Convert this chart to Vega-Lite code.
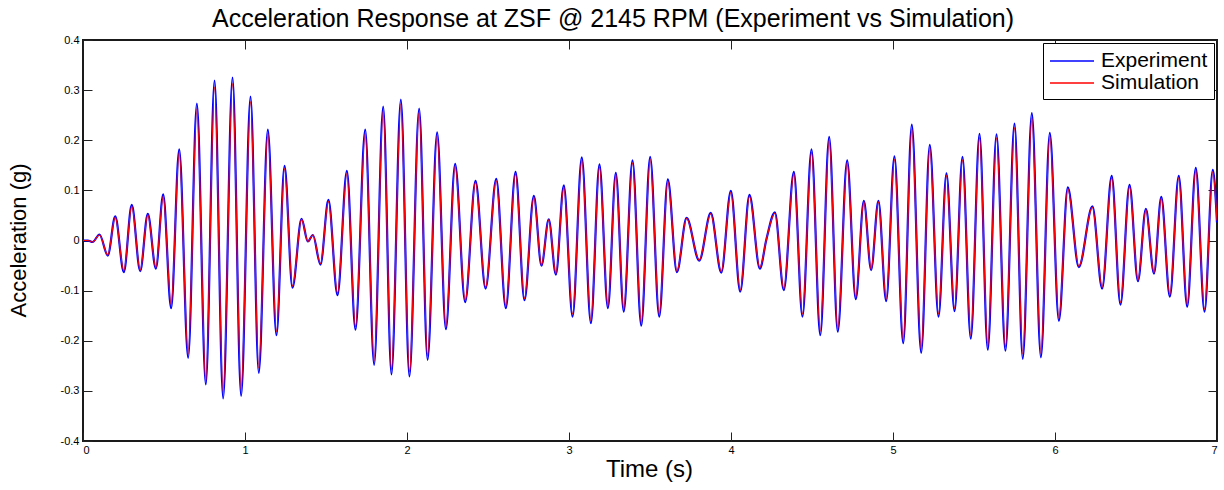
{
  "$schema": "https://vega.github.io/schema/vega-lite/v6.json",
  "width": 1134,
  "height": 401,
  "autosize": {"type": "none"},
  "padding": {"left": 83, "top": 40, "right": 7, "bottom": 49},
  "background": "white",
  "title": {
    "text": "Acceleration Response at ZSF @ 2145 RPM (Experiment vs Simulation)",
    "font": "Liberation Sans",
    "fontSize": 25,
    "fontWeight": "normal",
    "color": "black",
    "anchor": "middle",
    "baseline": "alphabetic",
    "offset": 12,
    "dx": -37,
    "dy": 30
  },
  "config": {
    "view": {"stroke": "#1a1a1a", "strokeWidth": 2},
    "axis": {
      "grid": false,
      "domain": false,
      "minExtent": 0,
      "tickSize": -9,
      "tickColor": "#222222",
      "tickWidth": 1,
      "labelFont": "Liberation Sans",
      "labelFontSize": 11,
      "labelColor": "black",
      "titleFont": "Liberation Sans",
      "titleFontWeight": "normal",
      "titleColor": "black"
    }
  },
  "data": {
    "values": [
      {"t": 0.000, "e": 0, "s": 0},
      {"t": 0.030, "e": 0, "s": 0},
      {"t": 0.059, "e": -0.003, "s": -0.003},
      {"t": 0.102, "e": 0.012, "s": 0.011},
      {"t": 0.153, "e": -0.030, "s": -0.029},
      {"t": 0.199, "e": 0.048, "s": 0.046},
      {"t": 0.252, "e": -0.063, "s": -0.060},
      {"t": 0.301, "e": 0.071, "s": 0.068},
      {"t": 0.353, "e": -0.061, "s": -0.059},
      {"t": 0.400, "e": 0.053, "s": 0.051},
      {"t": 0.450, "e": -0.056, "s": -0.054},
      {"t": 0.495, "e": 0.092, "s": 0.088},
      {"t": 0.544, "e": -0.135, "s": -0.128},
      {"t": 0.594, "e": 0.182, "s": 0.176},
      {"t": 0.649, "e": -0.234, "s": -0.226},
      {"t": 0.703, "e": 0.273, "s": 0.262},
      {"t": 0.758, "e": -0.287, "s": -0.280},
      {"t": 0.812, "e": 0.319, "s": 0.306},
      {"t": 0.865, "e": -0.315, "s": -0.301},
      {"t": 0.923, "e": 0.325, "s": 0.313},
      {"t": 0.976, "e": -0.310, "s": -0.297},
      {"t": 1.034, "e": 0.287, "s": 0.277},
      {"t": 1.085, "e": -0.264, "s": -0.254},
      {"t": 1.141, "e": 0.221, "s": 0.214},
      {"t": 1.194, "e": -0.189, "s": -0.182},
      {"t": 1.244, "e": 0.149, "s": 0.144},
      {"t": 1.293, "e": -0.094, "s": -0.091},
      {"t": 1.349, "e": 0.043, "s": 0.042},
      {"t": 1.388, "e": -0.002, "s": -0.002},
      {"t": 1.419, "e": 0.011, "s": 0.011},
      {"t": 1.466, "e": -0.048, "s": -0.046},
      {"t": 1.515, "e": 0.081, "s": 0.078},
      {"t": 1.571, "e": -0.109, "s": -0.105},
      {"t": 1.629, "e": 0.139, "s": 0.134},
      {"t": 1.682, "e": -0.178, "s": -0.172},
      {"t": 1.742, "e": 0.221, "s": 0.213},
      {"t": 1.797, "e": -0.248, "s": -0.240},
      {"t": 1.853, "e": 0.267, "s": 0.258},
      {"t": 1.904, "e": -0.267, "s": -0.258},
      {"t": 1.962, "e": 0.281, "s": 0.272},
      {"t": 2.015, "e": -0.271, "s": -0.262},
      {"t": 2.075, "e": 0.263, "s": 0.255},
      {"t": 2.127, "e": -0.238, "s": -0.230},
      {"t": 2.186, "e": 0.216, "s": 0.209},
      {"t": 2.240, "e": -0.177, "s": -0.172},
      {"t": 2.297, "e": 0.153, "s": 0.148},
      {"t": 2.359, "e": -0.123, "s": -0.119},
      {"t": 2.423, "e": 0.119, "s": 0.116},
      {"t": 2.485, "e": -0.096, "s": -0.093},
      {"t": 2.551, "e": 0.123, "s": 0.119},
      {"t": 2.610, "e": -0.135, "s": -0.131},
      {"t": 2.670, "e": 0.137, "s": 0.133},
      {"t": 2.725, "e": -0.119, "s": -0.116},
      {"t": 2.783, "e": 0.089, "s": 0.086},
      {"t": 2.830, "e": -0.050, "s": -0.049},
      {"t": 2.875, "e": 0.042, "s": 0.041},
      {"t": 2.919, "e": -0.068, "s": -0.066},
      {"t": 2.968, "e": 0.110, "s": 0.106},
      {"t": 3.022, "e": -0.152, "s": -0.147},
      {"t": 3.079, "e": 0.166, "s": 0.160},
      {"t": 3.135, "e": -0.165, "s": -0.160},
      {"t": 3.188, "e": 0.152, "s": 0.147},
      {"t": 3.240, "e": -0.135, "s": -0.131},
      {"t": 3.289, "e": 0.135, "s": 0.131},
      {"t": 3.338, "e": -0.142, "s": -0.137},
      {"t": 3.392, "e": 0.160, "s": 0.155},
      {"t": 3.446, "e": -0.170, "s": -0.164},
      {"t": 3.501, "e": 0.167, "s": 0.162},
      {"t": 3.557, "e": -0.152, "s": -0.147},
      {"t": 3.610, "e": 0.122, "s": 0.118},
      {"t": 3.666, "e": -0.063, "s": -0.061},
      {"t": 3.726, "e": 0.045, "s": 0.044},
      {"t": 3.804, "e": -0.040, "s": -0.039},
      {"t": 3.875, "e": 0.055, "s": 0.053},
      {"t": 3.940, "e": -0.064, "s": -0.062},
      {"t": 3.999, "e": 0.099, "s": 0.096},
      {"t": 4.057, "e": -0.102, "s": -0.099},
      {"t": 4.114, "e": 0.091, "s": 0.088},
      {"t": 4.178, "e": -0.056, "s": -0.054},
      {"t": 4.219, "e": 0.003, "s": 0.003},
      {"t": 4.271, "e": 0.056, "s": 0.054},
      {"t": 4.326, "e": -0.099, "s": -0.096},
      {"t": 4.388, "e": 0.137, "s": 0.133},
      {"t": 4.441, "e": -0.152, "s": -0.147},
      {"t": 4.497, "e": 0.182, "s": 0.176},
      {"t": 4.551, "e": -0.189, "s": -0.181},
      {"t": 4.606, "e": 0.207, "s": 0.200},
      {"t": 4.659, "e": -0.182, "s": -0.176},
      {"t": 4.717, "e": 0.160, "s": 0.155},
      {"t": 4.770, "e": -0.117, "s": -0.113},
      {"t": 4.820, "e": 0.079, "s": 0.077},
      {"t": 4.865, "e": -0.059, "s": -0.057},
      {"t": 4.910, "e": 0.079, "s": 0.077},
      {"t": 4.958, "e": -0.121, "s": -0.117},
      {"t": 5.009, "e": 0.168, "s": 0.162},
      {"t": 5.063, "e": -0.205, "s": -0.198},
      {"t": 5.116, "e": 0.231, "s": 0.222},
      {"t": 5.174, "e": -0.224, "s": -0.216},
      {"t": 5.227, "e": 0.191, "s": 0.185},
      {"t": 5.281, "e": -0.152, "s": -0.147},
      {"t": 5.330, "e": 0.134, "s": 0.130},
      {"t": 5.380, "e": -0.141, "s": -0.136},
      {"t": 5.429, "e": 0.167, "s": 0.161},
      {"t": 5.480, "e": -0.196, "s": -0.189},
      {"t": 5.534, "e": 0.213, "s": 0.206},
      {"t": 5.585, "e": -0.218, "s": -0.210},
      {"t": 5.639, "e": 0.212, "s": 0.205},
      {"t": 5.694, "e": -0.220, "s": -0.212},
      {"t": 5.750, "e": 0.233, "s": 0.225},
      {"t": 5.801, "e": -0.236, "s": -0.226},
      {"t": 5.857, "e": 0.254, "s": 0.244},
      {"t": 5.913, "e": -0.233, "s": -0.225},
      {"t": 5.968, "e": 0.215, "s": 0.208},
      {"t": 6.024, "e": -0.160, "s": -0.155},
      {"t": 6.079, "e": 0.106, "s": 0.103},
      {"t": 6.147, "e": -0.053, "s": -0.051},
      {"t": 6.231, "e": 0.068, "s": 0.066},
      {"t": 6.291, "e": -0.096, "s": -0.093},
      {"t": 6.350, "e": 0.129, "s": 0.125},
      {"t": 6.404, "e": -0.128, "s": -0.124},
      {"t": 6.460, "e": 0.111, "s": 0.108},
      {"t": 6.512, "e": -0.081, "s": -0.079},
      {"t": 6.561, "e": 0.063, "s": 0.061},
      {"t": 6.611, "e": -0.066, "s": -0.064},
      {"t": 6.656, "e": 0.087, "s": 0.084},
      {"t": 6.709, "e": -0.112, "s": -0.108},
      {"t": 6.764, "e": 0.129, "s": 0.125},
      {"t": 6.816, "e": -0.132, "s": -0.128},
      {"t": 6.869, "e": 0.145, "s": 0.140},
      {"t": 6.923, "e": -0.142, "s": -0.138},
      {"t": 6.974, "e": 0.141, "s": 0.137},
      {"t": 7.000, "e": 0.036, "s": 0.040}
    ]
  },
  "layer": [
    {
      "mark": {"type": "line", "interpolate": "monotone", "strokeWidth": 2.2, "clip": true},
      "encoding": {
        "x": {
          "field": "t", "type": "quantitative",
          "scale": {"domain": [0, 7], "nice": false, "zero": false},
          "axis": {
            "orient": "bottom",
            "values": [0, 1, 2, 3, 4, 5, 6, 7],
            "labelPadding": 12,
            "title": "Time (s)",
            "titleFontSize": 24,
            "titleX": 566,
            "titleY": 28,
            "titleBaseline": "middle",
            "titleAlign": "center"
          }
        },
        "y": {
          "field": "e", "type": "quantitative",
          "scale": {"domain": [-0.4, 0.4], "nice": false, "zero": false},
          "axis": {
            "orient": "left",
            "values": [-0.4, -0.3, -0.2, -0.1, 0, 0.1, 0.2, 0.3, 0.4],
            "labelExpr": "datum.value == 0 ? '0' : replace(format(datum.value, '.1f'), '\u2212', '-')",
            "labelPadding": 13,
            "title": "Acceleration (g)",
            "titleFontSize": 22,
            "titleAngle": -90,
            "titleX": -65,
            "titleY": 200,
            "titleBaseline": "middle",
            "titleAlign": "center"
          }
        },
        "color": {
          "datum": "Experiment",
          "type": "nominal",
          "scale": {"domain": ["Experiment", "Simulation"], "range": ["#0000ff", "#ff0000"]},
          "legend": {
            "title": null,
            "orient": "top-right",
            "offset": 3,
            "padding": 6,
            "strokeColor": "black",
            "fillColor": "white",
            "symbolType": "M-1,0H3",
            "symbolSize": 484,
            "symbolStrokeWidth": 1.5,
            "labelFont": "Liberation Sans",
            "labelFontSize": 21,
            "labelColor": "black",
            "labelOffset": 28,
            "rowPadding": 0
          }
        }
      }
    },
    {
      "mark": {"type": "line", "interpolate": "monotone", "strokeWidth": 1.2, "clip": true},
      "encoding": {
        "x": {
          "field": "t", "type": "quantitative",
          "axis": {"orient": "top", "values": [0, 1, 2, 3, 4, 5, 6, 7], "labels": false, "title": null}
        },
        "y": {
          "field": "s", "type": "quantitative",
          "axis": {"orient": "right", "values": [-0.4, -0.3, -0.2, -0.1, 0, 0.1, 0.2, 0.3, 0.4], "labels": false, "title": null}
        },
        "color": {"datum": "Simulation", "type": "nominal"}
      }
    }
  ],
  "resolve": {"axis": {"x": "independent", "y": "independent"}}
}
